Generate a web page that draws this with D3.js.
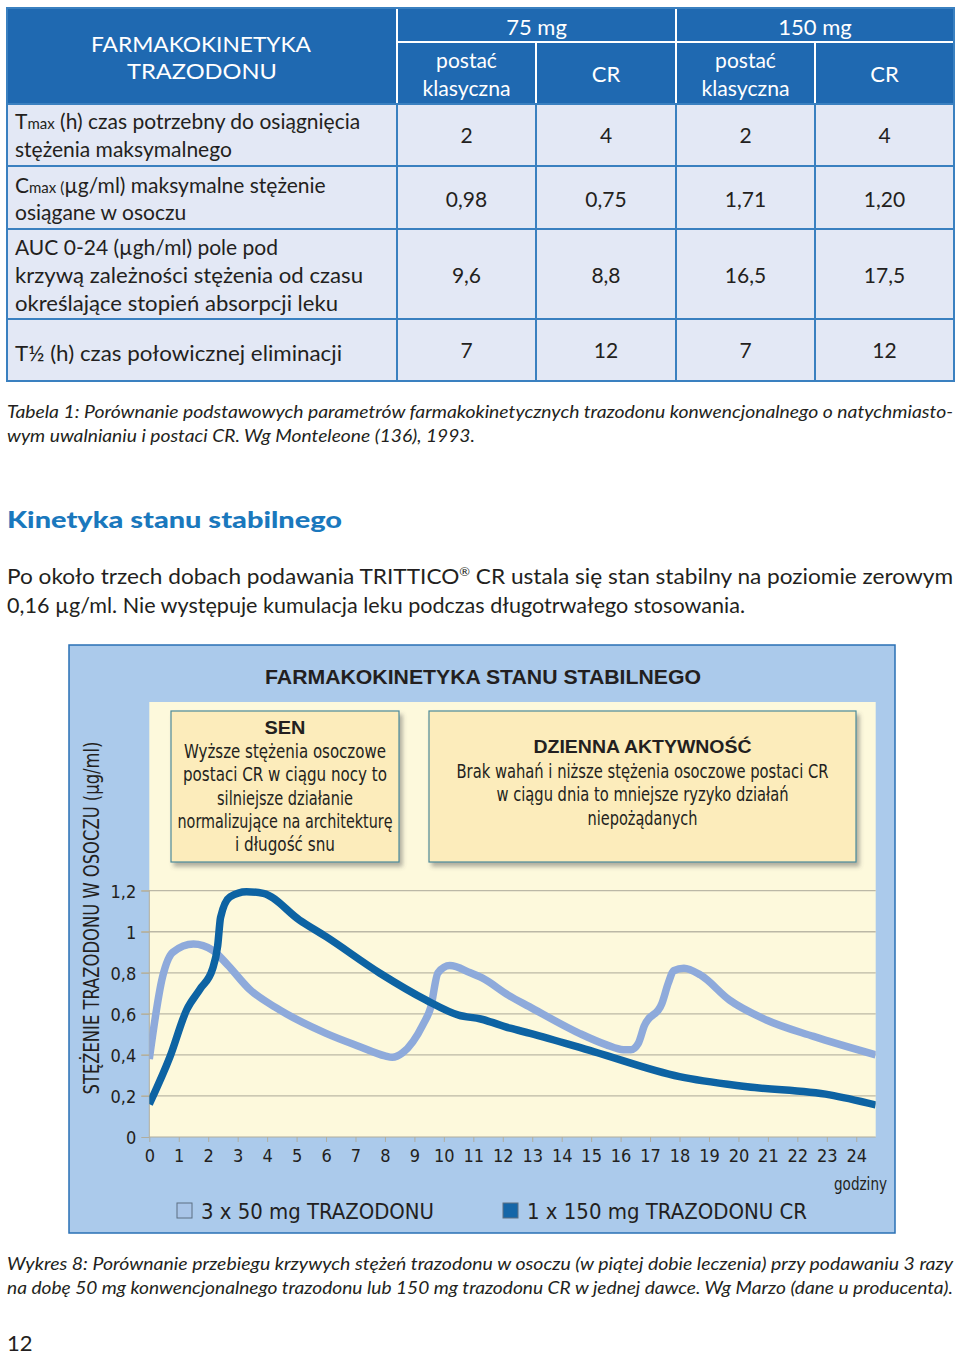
<!DOCTYPE html>
<html><head><meta charset="utf-8">
<script src="https://cdn.jsdelivr.net/npm/d3@7"></script>
<style>
html,body{margin:0;padding:0;background:#fff;}
svg{display:block;}
</style></head>
<body>
<svg id="page" width="960" height="1356"></svg>
<script>
// ---------- DATA ----------
const tableTitle = ["FARMAKOKINETYKA", "TRAZODONU"];
const doseGroups = ["75 mg", "150 mg"];
const formColumns = [["postać","klasyczna"], ["CR"], ["postać","klasyczna"], ["CR"]];
const tmaxValues = ["2", "4", "2", "4"];
const cmaxValues = ["0,98", "0,75", "1,71", "1,20"];
const aucValues = ["9,6", "8,8", "16,5", "17,5"];
const halfLifeValues = ["7", "12", "7", "12"];

const hourTicks = d3.range(0, 25);
const concTicks = [0, 0.2, 0.4, 0.6, 0.8, 1, 1.2];

// 3 x 50 mg trazodone (conventional): [hour, µg/ml]
const irSeries = [[0,0.38],[0.45,0.78],[0.8,0.9],[1.5,0.94],[2.15,0.91],[2.65,0.84],[3.4,0.72],[4.3,0.63],[6.0,0.505],[7.15,0.44],[8.0,0.395],[8.25,0.388],[8.6,0.41],[9.3,0.55],[9.55,0.63],[9.8,0.8],[10.2,0.835],[10.9,0.8],[11.3,0.775],[12.2,0.69],[12.9,0.635],[14.6,0.505],[15.5,0.45],[16.1,0.425],[16.35,0.425],[16.6,0.456],[16.8,0.54],[17.4,0.65],[17.62,0.75],[17.8,0.81],[18.15,0.822],[18.7,0.79],[19.7,0.667],[20.95,0.57],[22.55,0.49],[24.66,0.40]];
// 1 x 150 mg trazodone CR
const crSeries = [[0,0.16],[0.7,0.39],[1.27,0.62],[1.72,0.72],[2.15,0.82],[2.32,0.93],[2.42,1.07],[2.74,1.17],[3.3,1.195],[3.87,1.187],[5.1,1.057],[6.0,0.976],[7.83,0.798],[9.4,0.667],[10.5,0.594],[11.25,0.575],[12.25,0.53],[12.93,0.505],[15.08,0.416],[18.0,0.294],[20.3,0.245],[23.1,0.205],[24.66,0.156]];

const legendLabels = ["3 x 50 mg TRAZODONU", "1 x 150 mg TRAZODONU CR"];

// ---------- HELPERS ----------
const svg = d3.select("#page");
const GILL = "Lato, 'Open Sans', sans-serif";
const NARROW = "'Liberation Sans Narrow', 'Arial Narrow', 'DejaVu Sans Condensed', 'Liberation Sans', sans-serif";
const ARIAL = "'Liberation Sans', Arial, sans-serif";
const INK = "#231f20";

function txt(g, x, y, s, o = {}) {
  const t = g.append("text").attr("x", x).attr("y", y).text(s)
    .attr("font-family", o.family || GILL)
    .attr("font-size", o.size || 21)
    .attr("fill", o.fill || INK)
    .attr("text-anchor", o.anchor || "start");
  if (o.weight) t.attr("font-weight", o.weight);
  if (o.style) t.attr("font-style", o.style);
  if (o.width) t.attr("textLength", o.width).attr("lengthAdjust", "spacingAndGlyphs");
  return t;
}

// ---------- TABLE ----------
const T = svg.append("g");
const tL = 7, tR = 954, tT = 8, hMid = 42, hB = 104;
const colX = [397, 536, 676, 815, 954];
const rowY = [104, 166, 229, 319, 381];
const HEAD = "#1f69b1", BODY = "#e3e8f5", LINE = "#3a80c0";

T.append("rect").attr("x", tL).attr("y", tT).attr("width", tR - tL).attr("height", hB - tT).attr("fill", HEAD);
T.append("rect").attr("x", tL).attr("y", hB).attr("width", tR - tL).attr("height", rowY[4] - hB).attr("fill", BODY);
// header white separators
T.append("line").attr("x1", colX[0]).attr("x2", colX[0]).attr("y1", tT).attr("y2", hB).attr("stroke", "#fff").attr("stroke-width", 2);
T.append("line").attr("x1", colX[0]).attr("x2", tR).attr("y1", hMid).attr("y2", hMid).attr("stroke", "#fff").attr("stroke-width", 2);
T.append("line").attr("x1", colX[2]).attr("x2", colX[2]).attr("y1", tT).attr("y2", hB).attr("stroke", "#fff").attr("stroke-width", 2);
[1, 3].forEach(i => T.append("line").attr("x1", colX[i]).attr("x2", colX[i]).attr("y1", hMid).attr("y2", hB).attr("stroke", "#fff").attr("stroke-width", 2));
// body lines
rowY.forEach(y => T.append("line").attr("x1", tL).attr("x2", tR).attr("y1", y).attr("y2", y).attr("stroke", LINE).attr("stroke-width", 2));
colX.forEach(x => T.append("line").attr("x1", x).attr("x2", x).attr("y1", hB).attr("y2", rowY[4]).attr("stroke", LINE).attr("stroke-width", 2));
T.append("rect").attr("x", tL).attr("y", tT).attr("width", tR - tL).attr("height", rowY[4] - tT).attr("fill", "none").attr("stroke", LINE).attr("stroke-width", 2);

// header text
txt(T, 201, 52, tableTitle[0], {size: 22, fill: "#fff", anchor: "middle", width: 220});
txt(T, 202, 79, tableTitle[1], {size: 22, fill: "#fff", anchor: "middle", width: 150});
doseGroups.forEach((d, i) => txt(T, (colX[i * 2] + colX[i * 2 + 2]) / 2, 35, d, {size: 22, fill: "#fff", anchor: "middle"}));
formColumns.forEach((f, i) => {
  const cx = (colX[i] + colX[i + 1]) / 2;
  if (f.length === 2) {
    txt(T, cx, 68, f[0], {size: 21, fill: "#fff", anchor: "middle"});
    txt(T, cx, 96, f[1], {size: 21, fill: "#fff", anchor: "middle", width: 88});
  } else {
    txt(T, cx, 82, f[0], {size: 22, fill: "#fff", anchor: "middle"});
  }
});

// row labels
function subText(y, big, small, rest) {
  const t = txt(T, 15, y, big, {size: 21});
  t.append("tspan").attr("font-size", 15).text(small);
  t.append("tspan").text(rest);
  return t;
}
subText(129, "T", "max", " (h) czas potrzebny do osiągnięcia");
txt(T, 15, 157, "stężenia maksymalnego", {size: 21});
subText(193, "C", "max (", "µg/ml) maksymalne stężenie");
txt(T, 15, 220, "osiągane w osoczu", {size: 21});
txt(T, 15, 255, "AUC 0-24 (µgh/ml) pole pod", {size: 21});
txt(T, 15, 283, "krzywą zależności stężenia od czasu", {size: 21, width: 348});
txt(T, 15, 311, "określające stopień absorpcji leku", {size: 21, width: 323});
txt(T, 15, 361, "T½ (h) czas połowicznej eliminacji", {size: 21, width: 327});

const valueRows = [[tmaxValues, 143], [cmaxValues, 207], [aucValues, 283], [halfLifeValues, 358]];
valueRows.forEach(([vals, y]) => vals.forEach((v, i) => txt(T, (colX[i] + colX[i + 1]) / 2, y, v, {size: 21, anchor: "middle"})));

// ---------- PAGE TEXT ----------
txt(svg, 7, 418, "Tabela 1: Porównanie podstawowych parametrów farmakokinetycznych trazodonu konwencjonalnego o natychmiasto-", {size: 17, style: "italic", width: 946});
txt(svg, 7, 442, "wym uwalnianiu i postaci CR. Wg Monteleone (136), 1993.", {size: 17, style: "italic", width: 468});
txt(svg, 7, 528, "Kinetyka stanu stabilnego", {size: 23, weight: 900, fill: "#1a78bd", width: 335});
const p1 = txt(svg, 7, 584, "Po około trzech dobach podawania TRITTICO", {size: 21});
p1.append("tspan").attr("font-size", 12).attr("dy", -8).text("®");
p1.append("tspan").attr("dy", 8).text(" CR ustala się stan stabilny na poziomie zerowym");
p1.attr("textLength", 946).attr("lengthAdjust", "spacingAndGlyphs");
txt(svg, 7, 613, "0,16 µg/ml. Nie występuje kumulacja leku podczas długotrwałego stosowania.", {size: 21, width: 738});

txt(svg, 7, 1270, "Wykres 8: Porównanie przebiegu krzywych stężeń trazodonu w osoczu (w piątej dobie leczenia) przy podawaniu 3 razy", {size: 17, style: "italic", width: 946});
txt(svg, 7, 1294, "na dobę 50 mg konwencjonalnego trazodonu lub 150 mg trazodonu CR w jednej dawce. Wg Marzo (dane u producenta).", {size: 17, style: "italic", width: 946});
txt(svg, 7, 1351, "12", {size: 22});

// ---------- CHART PANEL ----------
const C = svg.append("g");
const defs = svg.append("defs");
const f = defs.append("filter").attr("id", "shadow").attr("x", "-5%").attr("y", "-5%").attr("width", "115%").attr("height", "120%");
f.append("feDropShadow").attr("dx", 3).attr("dy", 4).attr("stdDeviation", 2).attr("flood-color", "#555").attr("flood-opacity", 0.45);

C.append("rect").attr("x", 69).attr("y", 645).attr("width", 826).attr("height", 588)
  .attr("fill", "#abcaeb").attr("stroke", "#2a70b5").attr("stroke-width", 1.5);

const pL = 149.3, pR = 875.7, pT = 702, pB = 1137;
const x = d3.scaleLinear().domain([0, 24.66]).range([pL, pR]);
const y = d3.scaleLinear().domain([0, (pB - pT) / 205.25]).range([pB, pT]);

C.append("rect").attr("x", pL).attr("y", pT).attr("width", pR - pL).attr("height", pB - pT).attr("fill", "#fdf9dc");

txt(C, 483, 684, "FARMAKOKINETYKA STANU STABILNEGO", {family: ARIAL, size: 20, weight: "bold", anchor: "middle", width: 436});

// gridlines
C.append("g").selectAll("line").data(concTicks.filter(d => d > 0)).join("line")
  .attr("x1", pL - 8).attr("x2", pR).attr("y1", d => y(d)).attr("y2", d => y(d))
  .attr("stroke", "#bbb8a6").attr("stroke-width", 1.3);

// axes
const yAxis = C.append("g").attr("transform", `translate(${pL},0)`)
  .call(d3.axisLeft(y).tickValues(concTicks).tickSize(8).tickPadding(5).tickFormat(d => String(d).replace(".", ",")));
yAxis.select(".domain").attr("stroke", "#b0ad9e").attr("d", `M0,${y(1.2)}V${pB}`);
yAxis.selectAll(".tick line").attr("stroke", "#b0ad9e");
yAxis.selectAll("text").attr("font-family", NARROW).attr("font-size", 18).attr("fill", INK).attr("dy", "0.35em");

const xAxis = C.append("g").attr("transform", `translate(0,${pB})`)
  .call(d3.axisBottom(x).tickValues(hourTicks).tickSize(5).tickPadding(7).tickFormat(d3.format("d")));
xAxis.select(".domain").attr("stroke", "#b0ad9e").attr("d", `M${pL},0H${pR}`);
xAxis.selectAll(".tick line").attr("stroke", "#b0ad9e");
xAxis.selectAll("text").attr("font-family", NARROW).attr("font-size", 18).attr("fill", INK);

// y axis title
txt(C, 0, 0, "STĘŻENIE TRAZODONU W OSOCZU (µg/ml)", {family: NARROW, size: 22, anchor: "middle", width: 353})
  .attr("transform", "translate(99,918) rotate(-90)");

txt(C, 887, 1190, "godziny", {family: NARROW, size: 18, anchor: "end", width: 53});

// annotation boxes
const boxes = [
  {x0: 171, x1: 399, y0: 711, y1: 862, title: "SEN", ty: 734,
   lines: ["Wyższe stężenia osoczowe", "postaci CR w ciągu nocy to", "silniejsze działanie", "normalizujące na architekturę", "i długość snu"],
   ly: 758, widths: [202, 204, 136, 215, 100]},
  {x0: 429, x1: 856, y0: 711, y1: 862, title: "DZIENNA AKTYWNOŚĆ", ty: 753,
   lines: ["Brak wahań i niższe stężenia osoczowe postaci CR", "w ciągu dnia to mniejsze ryzyko działań", "niepożądanych"],
   ly: 778, widths: [372, 292, 110]}
];
boxes.forEach(b => {
  C.append("rect").attr("x", b.x0).attr("y", b.y0).attr("width", b.x1 - b.x0).attr("height", b.y1 - b.y0)
    .attr("fill", "#fcecbb").attr("stroke", "#4c8a99").attr("stroke-width", 1.2).attr("filter", "url(#shadow)");
  const cx = (b.x0 + b.x1) / 2;
  txt(C, cx, b.ty, b.title, {family: ARIAL, size: 19, weight: "bold", anchor: "middle", width: b.title === "SEN" ? 41 : 218});
  b.lines.forEach((l, i) => txt(C, cx, b.ly + i * 23.3, l, {family: NARROW, size: 20, anchor: "middle", width: b.widths[i]}));
});

// curves
C.append("clipPath").attr("id", "plotclip").append("rect").attr("x", pL).attr("y", pT).attr("width", pR - pL).attr("height", pB - pT);
const line = d3.line().x(d => x(d[0])).y(d => y(d[1])).curve(d3.curveMonotoneX);
const curves = C.append("g").attr("clip-path", "url(#plotclip)");
curves.append("path").datum(irSeries).attr("d", line).attr("fill", "none").attr("stroke", "#8eaadb").attr("stroke-width", 7.5).attr("stroke-linejoin", "round");
curves.append("path").datum(crSeries).attr("d", line).attr("fill", "none").attr("stroke", "#0d63a3").attr("stroke-width", 7.5).attr("stroke-linejoin", "round");

// legend
const legendDefs = [{x: 177, fill: "#a9c5e8", label: legendLabels[0], w: 233}, {x: 503, fill: "#1466a8", label: legendLabels[1], w: 280}];
legendDefs.forEach(l => {
  C.append("rect").attr("x", l.x).attr("y", 1203).attr("width", 15).attr("height", 15).attr("fill", l.fill).attr("stroke", "#5d6f82").attr("stroke-width", 1);
  txt(C, l.x + 24, 1219, l.label, {family: NARROW, size: 22, width: l.w});
});
</script>
</body></html>
